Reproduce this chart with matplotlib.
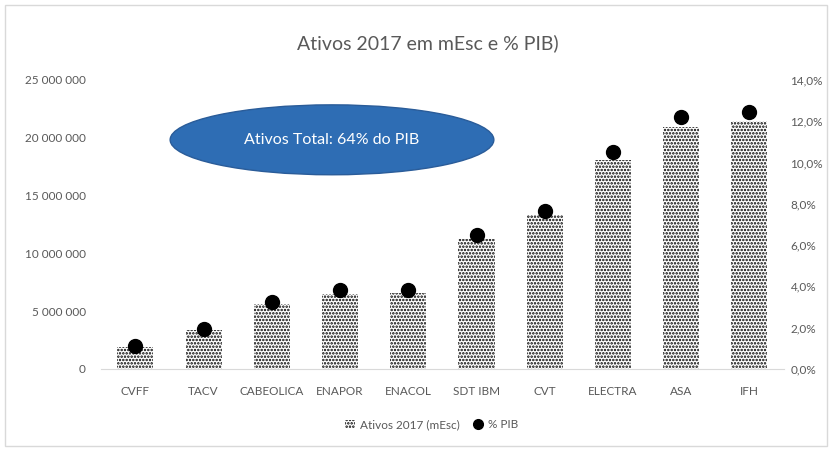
import matplotlib.pyplot as plt
from matplotlib.patches import Ellipse, Rectangle
from matplotlib.ticker import FuncFormatter
import numpy as np

plt.rcParams['font.family'] = ['Lato', 'DejaVu Sans']
plt.rcParams['hatch.linewidth'] = 1.2

empresas = ["CVFF", "TACV", "CABEOLICA", "ENAPOR", "ENACOL", "SDT IBM", "CVT", "ELECTRA", "ASA", "IFH"]
ativos = [1900000, 3370000, 5600000, 6500000, 6600000, 11200000, 13300000, 18100000, 20900000, 21400000]
pib = [1.1, 1.95, 3.25, 3.8, 3.8, 6.5, 7.65, 10.5, 12.2, 12.45]

cinza = "#595959"
fig = plt.figure(figsize=(8.3, 4.51), dpi=100)
ax = fig.add_axes([0.122, 0.182, 0.822, 0.641])
x = np.arange(len(empresas))

ax.bar(x, ativos, width=0.53, color="white", edgecolor="black", linewidth=0,
       hatch=".....", label="Ativos 2017 (mEsc)")
ax.set_ylim(0, 25000000)
ax.set_xlim(-0.5, len(empresas) - 0.5)
ax.set_yticks(np.arange(0, 25000001, 5000000))
ax.yaxis.set_major_formatter(FuncFormatter(lambda v, p: f"{int(v):,}".replace(",", " ")))
ax.set_xticks(x)
ax.set_xticklabels(empresas)

ax2 = ax.twinx()
ax2.plot(x, pib, "o", color="black", markersize=10, label="% PIB")
ax2.set_ylim(0, 14)
ax2.set_yticks(np.arange(0, 14.1, 2))
ax2.yaxis.set_major_formatter(FuncFormatter(lambda v, p: f"{v:.1f}%".replace(".", ",")))

for a in (ax, ax2):
    for s in a.spines.values():
        s.set_visible(False)
    a.tick_params(length=0, colors=cinza, labelsize=8.5)
ax.spines['bottom'].set_visible(True)
ax.spines['bottom'].set_color("#d9d9d9")
ax.tick_params(axis='x', pad=12)
ax.tick_params(axis='y', pad=11)
ax2.tick_params(axis='y', pad=5)

fig.text(0.515, 0.905, "Ativos 2017 em mEsc e % PIB)", ha="center", va="center",
         fontsize=14, color=cinza)

elipse = Ellipse((0.40, 0.69), 0.39, 0.155, transform=fig.transFigure,
                 facecolor="#2e6db4", edgecolor="#2a5c99", linewidth=1)
fig.patches.append(elipse)
fig.text(0.40, 0.69, "Ativos Total: 64% do PIB", ha="center", va="center",
         fontsize=11.5, color="white")

h1, l1 = ax.get_legend_handles_labels()
h2, l2 = ax2.get_legend_handles_labels()
fig.legend(h1 + h2, l1 + l2, loc="center", bbox_to_anchor=(0.52, 0.058), ncol=2,
           frameon=False, fontsize=8.5, labelcolor=cinza, handlelength=0.8,
           handletextpad=0.4, columnspacing=1.2, markerscale=0.7)

fig.patches.append(Rectangle((0.006, 0.01), 0.99, 0.98, transform=fig.transFigure,
                             fill=False, edgecolor="#d9d9d9", linewidth=1))

fig.savefig("out.png", dpi=100)
